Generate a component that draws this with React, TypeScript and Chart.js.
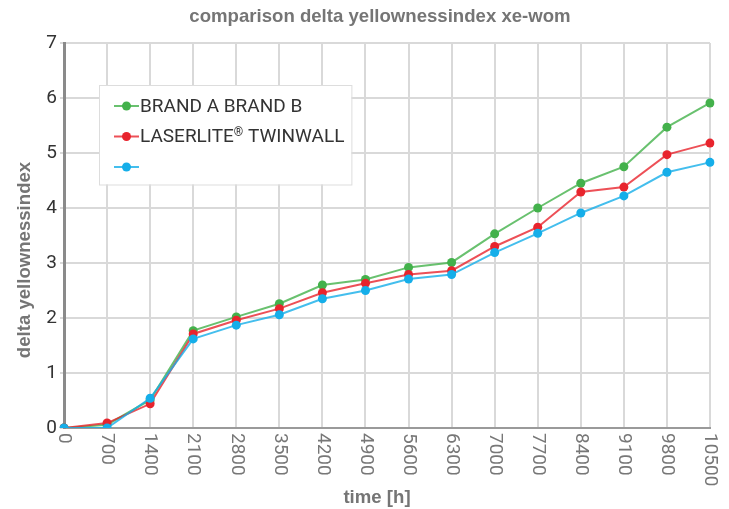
import React, { useEffect, useRef } from "react";
import { Chart, registerables } from "chart.js";

Chart.register(...registerables);

const chartTitle = "comparison delta yellownessindex xe-wom";
const xAxisTitle = "time [h]";
const yAxisTitle = "delta yellownessindex";

const timeLabels = ["0", "700", "1400", "2100", "2800", "3500", "4200", "4900", "5600", "6300", "7000", "7700", "8400", "9100", "9800", "10500"];

const seriesNames = ["BRAND A BRAND B", "LASERLITE\u00AE TWINWALL", ""];

const brandValues = [0, 0.06, 0.51, 1.77, 2.02, 2.26, 2.6, 2.7, 2.92, 3.01, 3.53, 4.0, 4.45, 4.75, 5.47, 5.91];
const laserliteValues = [0, 0.09, 0.44, 1.71, 1.96, 2.17, 2.46, 2.63, 2.79, 2.86, 3.3, 3.65, 4.29, 4.38, 4.97, 5.18];
const thirdValues = [0, 0, 0.54, 1.62, 1.87, 2.06, 2.35, 2.5, 2.71, 2.79, 3.19, 3.54, 3.91, 4.22, 4.65, 4.83];

const yMin = 0;
const yMax = 7;
const yStep = 1;

const pointColors = ["#43b14b", "#e8242d", "#15aee9"];
const lineColors = ["rgba(67,177,75,0.8)", "rgba(232,36,45,0.8)", "rgba(21,174,233,0.8)"];

const boldFont = 'bold 18.6px "Liberation Sans", Arial, sans-serif';
const regularFont = '19px Roboto, "Noto Sans", sans-serif';
const superFont = '12px Roboto, "Noto Sans", sans-serif';

// Split a label so that the registered sign is drawn as a small superscript
function labelParts(label: string) {
  const parts: { text: string; sup: boolean }[] = [];
  let buf = "";
  for (const ch of label) {
    if (ch === "\u00AE") {
      if (buf) parts.push({ text: buf, sup: false });
      parts.push({ text: ch, sup: true });
      buf = "";
    } else {
      buf += ch;
    }
  }
  if (buf) parts.push({ text: buf, sup: false });
  return parts;
}

function measureLabel(ctx: CanvasRenderingContext2D, label: string) {
  let w = 0;
  for (const p of labelParts(label)) {
    ctx.font = p.sup ? superFont : regularFont;
    w += ctx.measureText(p.text).width;
  }
  return w;
}

const overlayPlugin = {
  id: "overlay",
  afterDraw(chart: any) {
    const ctx = chart.ctx as CanvasRenderingContext2D;
    const ca = chart.chartArea;
    ctx.save();

    // Title
    ctx.font = boldFont;
    ctx.fillStyle = "#757575";
    ctx.textAlign = "center";
    ctx.textBaseline = "middle";
    ctx.fillText(chartTitle, 380, 17);

    // X axis title
    ctx.fillText(xAxisTitle, 377, 498);

    // Y axis title
    ctx.save();
    ctx.translate(25, 260);
    ctx.rotate(-Math.PI / 2);
    ctx.fillText(yAxisTitle, 0, 0);
    ctx.restore();

    // X tick labels, rotated clockwise
    const xs = chart.scales.x;
    ctx.font = regularFont;
    ctx.fillStyle = "#777777";
    ctx.textAlign = "left";
    ctx.textBaseline = "middle";
    xs.ticks.forEach((_t: any, i: number) => {
      const x = xs.getPixelForTick(i);
      ctx.save();
      ctx.translate(x, ca.bottom + 5);
      ctx.rotate(Math.PI / 2);
      ctx.fillText(timeLabels[i], 0, 0);
      ctx.restore();
    });

    // Legend box
    const left = ca.left + 35;
    const top = ca.top + 42;
    const rowGap = 30.5;
    const datasets = chart.data.datasets;
    let maxW = 0;
    datasets.forEach((d: any) => {
      maxW = Math.max(maxW, measureLabel(ctx, d.label));
    });
    const textX = left + 41;
    const boxW = textX - left + maxW + 7;
    const boxH = rowGap * datasets.length + 8;
    ctx.fillStyle = "#ffffff";
    ctx.fillRect(left, top, boxW, boxH);
    ctx.strokeStyle = "#dddddd";
    ctx.lineWidth = 1;
    ctx.strokeRect(left + 0.5, top + 0.5, boxW, boxH);

    datasets.forEach((d: any, i: number) => {
      const y = top + 21 + i * rowGap;
      ctx.strokeStyle = d.borderColor;
      ctx.lineWidth = 2;
      ctx.beginPath();
      ctx.moveTo(left + 15, y);
      ctx.lineTo(left + 40, y);
      ctx.stroke();
      ctx.fillStyle = d.pointBackgroundColor;
      ctx.beginPath();
      ctx.arc(left + 27.5, y, 4.5, 0, Math.PI * 2);
      ctx.fill();
      ctx.fillStyle = "#333333";
      ctx.textAlign = "left";
      ctx.textBaseline = "middle";
      let x = textX;
      for (const p of labelParts(d.label)) {
        ctx.font = p.sup ? superFont : regularFont;
        ctx.fillText(p.text, x, p.sup ? y - 4 : y + 1);
        x += ctx.measureText(p.text).width;
      }
    });

    ctx.restore();
  },
};

export default function App() {
  const canvasRef = useRef<HTMLCanvasElement | null>(null);

  useEffect(() => {
    if (!canvasRef.current) return;
    const values = [brandValues, laserliteValues, thirdValues];
    const chart = new Chart(canvasRef.current, {
      type: "line",
      data: {
        labels: timeLabels,
        datasets: values.map((v, i) => ({
          label: seriesNames[i],
          data: v,
          borderColor: lineColors[i],
          backgroundColor: pointColors[i],
          pointBackgroundColor: pointColors[i],
          pointBorderColor: pointColors[i],
          pointRadius: 4.5,
          pointBorderWidth: 0,
          borderWidth: 2,
          tension: 0,
          fill: false,
          order: 3 - i,
        })),
      },
      options: {
        animation: false,
        responsive: false,
        maintainAspectRatio: false,
        devicePixelRatio: 1,
        layout: { padding: { top: 43, right: 19, left: 0, bottom: 0 } },
        plugins: {
          legend: { display: false },
          title: { display: false },
          tooltip: { enabled: false },
        },
        scales: {
          x: {
            type: "category",
            offset: false,
            grid: { color: "#d9d9d9", lineWidth: 2, drawTicks: false },
            border: { color: "#9a9a9a", width: 2 },
            ticks: { display: false, autoSkip: false },
            afterFit: (scale: any) => {
              scale.height = 81;
            },
          },
          y: {
            min: yMin,
            max: yMax,
            grid: { color: "#d9d9d9", lineWidth: 2, tickLength: 4 },
            border: { color: "#8a8a8a", width: 3 },
            ticks: {
              stepSize: yStep,
              padding: 3,
              color: "#333333",
              font: { family: 'Roboto, "Noto Sans", sans-serif', size: 19 },
            },
            afterFit: (scale: any) => {
              scale.width = 64;
            },
          },
        },
      },
      plugins: [overlayPlugin],
    });
    return () => chart.destroy();
  }, []);

  return (
    <div style={{ position: "fixed", left: 0, top: 0, width: 729, height: 509, background: "#ffffff" }}>
      <canvas ref={canvasRef} width={729} height={509} style={{ width: 729, height: 509, display: "block" }} />
    </div>
  );
}
